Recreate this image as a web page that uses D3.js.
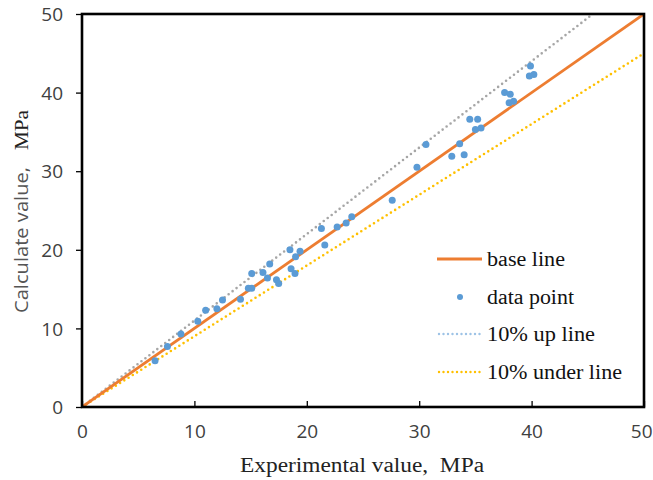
<!DOCTYPE html>
<html>
<head>
<meta charset="utf-8">
<script src="https://cdn.jsdelivr.net/npm/d3@7"></script>
<style>
body { margin: 0; background: #fff; }
</style>
</head>
<body>
<script>
var width = 653,
    height = 480;

// measured points: [experimental, calculated]
var expValues = [6.5, 7.6, 8.8, 10.3, 11.0, 12.0, 12.5, 14.1, 14.8, 15.1, 15.1, 16.1, 16.5, 16.7, 17.3, 17.5,
    18.5, 18.6, 18.95, 19.0, 19.4, 21.3, 21.6, 22.7, 23.5, 24.0, 27.6, 29.8, 30.6, 32.9, 33.6, 34.0,
    34.5, 35.2, 35.0, 35.5, 37.6, 38.1, 38.0, 38.4, 39.9, 39.8, 40.2];
var calcValues = [5.9, 7.7, 9.3, 10.9, 12.3, 12.5, 13.6, 13.7, 15.1, 15.1, 17.0, 17.1, 16.4, 18.2, 16.2, 15.7,
    20.0, 17.6, 17.0, 19.1, 19.8, 22.7, 20.6, 22.9, 23.4, 24.2, 26.3, 30.5, 33.4, 31.9, 33.5, 32.1,
    36.6, 36.6, 35.3, 35.5, 40.0, 39.8, 38.7, 38.9, 43.4, 42.1, 42.3];
var tickValues = [0, 10, 20, 30, 40, 50];
var refFactors = [1.0, 1.1, 0.9]; // base, 10% up, 10% under
var legendLabels = ["base line", "data point", "10% up line", "10% under line"];

var points = expValues.map((d, i) => ({x: d, y: calcValues[i]}));

var svg = d3.select("body").append("svg").attr("width", width).attr("height", height);

var x = d3.scaleLinear().domain([0, 50]).range([82, 644]);
var y = d3.scaleLinear().domain([0, 50]).range([407, 14]);

svg.append("clipPath").attr("id", "plotclip").append("rect")
    .attr("x", x(0)).attr("y", y(50))
    .attr("width", x(50) - x(0)).attr("height", y(0) - y(50));

var plot = svg.append("g").attr("clip-path", "url(#plotclip)");

// reference lines y = k * x
var line = d3.line().x(d => x(d[0])).y(d => y(d[1]));
function refLine(k) {
    return [[0, 0], [50, 50 * k]];
}

plot.append("path").attr("d", line(refLine(refFactors[1])))
    .attr("fill", "none").attr("stroke", "#a6a6a6").attr("stroke-width", 2.6)
    .attr("stroke-linecap", "round").attr("stroke-dasharray", "0,5");
plot.append("path").attr("d", line(refLine(refFactors[2])))
    .attr("fill", "none").attr("stroke", "#ffc000").attr("stroke-width", 2.6)
    .attr("stroke-linecap", "round").attr("stroke-dasharray", "0,5");
plot.append("path").attr("d", line(refLine(refFactors[0])))
    .attr("fill", "none").attr("stroke", "#ed7d31").attr("stroke-width", 2.8);

plot.selectAll("circle.pt").data(points).enter().append("circle")
    .attr("class", "pt")
    .attr("cx", d => x(d.x))
    .attr("cy", d => y(d.y))
    .attr("r", 3.5)
    .attr("fill", "#5b9bd5");

// axes
var xAxis = d3.axisBottom(x).tickValues(tickValues).tickSizeInner(-6).tickSizeOuter(0).tickPadding(18);
var yAxis = d3.axisLeft(y).tickValues(tickValues).tickSizeInner(6).tickSizeOuter(0).tickPadding(13);

var gx = svg.append("g").attr("transform", "translate(0," + y(0) + ")").call(xAxis);
var gy = svg.append("g").attr("transform", "translate(" + x(0) + ",0)").call(yAxis);
[gx, gy].forEach(function (g) {
    g.select(".domain").remove();
    g.selectAll(".tick line").attr("stroke", "#000").attr("stroke-width", 1.3);
    g.selectAll(".tick text").attr("font-family", "'Open Sans', sans-serif")
        .attr("font-size", 19).attr("fill", "#404040");
});
gy.selectAll(".tick text").attr("dy", "0.35em");
// keep the last x label inside the page
gx.selectAll(".tick text").filter(d => d === 50).attr("text-anchor", "end").attr("x", 8);

// frame
svg.append("rect")
    .attr("x", x(0)).attr("y", y(50))
    .attr("width", x(50) - x(0)).attr("height", y(0) - y(50))
    .attr("fill", "none").attr("stroke", "#000").attr("stroke-width", 2.6);

// titles
svg.append("text").attr("x", 240).attr("y", 472)
    .attr("font-family", "'Liberation Serif', serif").attr("font-size", 20).attr("fill", "#222")
    .attr("textLength", 244).attr("lengthAdjust", "spacingAndGlyphs")
    .text("Experimental value,\u00a0\u00a0MPa");

var yt = svg.append("text").attr("transform", "translate(28,313) rotate(-90)")
    .attr("font-size", 19).attr("fill", "#555");
yt.append("tspan").attr("x", 0).attr("font-family", "'Open Sans', sans-serif")
    .attr("textLength", 146).attr("lengthAdjust", "spacingAndGlyphs").text("Calculate value,");
yt.append("tspan").attr("x", 163).attr("font-family", "'Liberation Serif', serif").attr("fill", "#222")
    .attr("textLength", 40).attr("lengthAdjust", "spacingAndGlyphs").text("MPa");

// legend
var legend = svg.append("g").attr("font-family", "'Liberation Serif', serif").attr("font-size", 20).attr("fill", "#111");
var rowY = [259, 297, 334, 372];
var legendWidths = [78, 87, 108, 135];
legend.append("line").attr("x1", 437).attr("x2", 482).attr("y1", rowY[0]).attr("y2", rowY[0])
    .attr("stroke", "#ed7d31").attr("stroke-width", 2.8);
legend.append("circle").attr("cx", 460).attr("cy", rowY[1]).attr("r", 3).attr("fill", "#5b9bd5");
legend.append("line").attr("x1", 439).attr("x2", 482).attr("y1", rowY[2]).attr("y2", rowY[2])
    .attr("stroke", "#9dc3e6").attr("stroke-width", 2.4)
    .attr("stroke-linecap", "round").attr("stroke-dasharray", "0,4.5");
legend.append("line").attr("x1", 439).attr("x2", 482).attr("y1", rowY[3]).attr("y2", rowY[3])
    .attr("stroke", "#ffc000").attr("stroke-width", 2.4)
    .attr("stroke-linecap", "round").attr("stroke-dasharray", "0,4.5");
legend.selectAll("text").data(legendLabels).enter().append("text")
    .attr("x", 487).attr("y", (d, i) => rowY[i] + 7)
    .attr("textLength", (d, i) => legendWidths[i]).attr("lengthAdjust", "spacingAndGlyphs")
    .text(d => d);
</script>
</body>
</html>
